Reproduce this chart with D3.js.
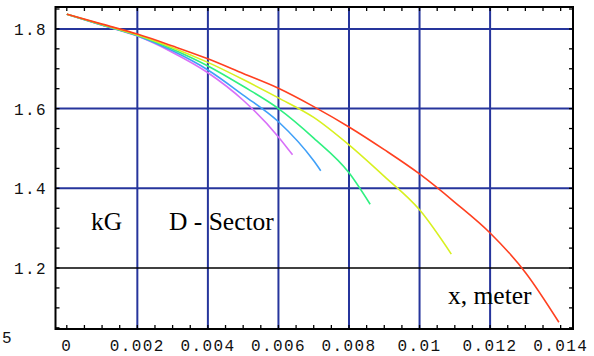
<!DOCTYPE html>
<html>
<head>
<meta charset="utf-8">
<script src="https://cdn.jsdelivr.net/npm/d3@7"></script>
<style>
    body { margin: 0; background: #fff; }
    svg { display: block; }
    .tick-label { font-family: 'Liberation Mono', 'DejaVu Sans Mono', monospace; font-size: 16px; letter-spacing: 1.4px; fill: #111; }
    .note { font-family: 'Liberation Serif', 'Times New Roman', serif; font-size: 25.5px; fill: #000; }
</style>
</head>
<body>
<div id="content"></div>
<script>
'use strict';

// field along x for five sector variants (kG vs metres)
var redSeries = [[0, 1.837], [0.001, 1.812], [0.002, 1.787], [0.003, 1.757], [0.004, 1.725], [0.005, 1.688],
    [0.006, 1.651], [0.007, 1.605], [0.008, 1.554], [0.009, 1.497], [0.010, 1.436], [0.011, 1.365],
    [0.012, 1.288], [0.013, 1.189], [0.01395, 1.064]];
var yellowSeries = [[0, 1.837], [0.001, 1.811], [0.002, 1.785], [0.003, 1.753], [0.004, 1.716], [0.005, 1.673],
    [0.006, 1.627], [0.007, 1.578], [0.008, 1.509], [0.009, 1.430], [0.010, 1.346], [0.0109, 1.235]];
var greenSeries = [[0, 1.837], [0.001, 1.810], [0.002, 1.784], [0.003, 1.749], [0.004, 1.707], [0.005, 1.656],
    [0.006, 1.600], [0.007, 1.526], [0.008, 1.439], [0.0086, 1.360]];
var blueSeries = [[0, 1.837], [0.001, 1.810], [0.002, 1.783], [0.003, 1.745], [0.004, 1.697], [0.005, 1.634],
    [0.006, 1.567], [0.007, 1.469], [0.0072, 1.444]];
var magentaSeries = [[0, 1.837], [0.001, 1.809], [0.002, 1.782], [0.003, 1.741], [0.004, 1.690], [0.005, 1.621],
    [0.006, 1.529], [0.0064, 1.484]];

var seriesList = [redSeries, yellowSeries, greenSeries, blueSeries, magentaSeries];
var seriesColors = ['#ff4020', '#d8f020', '#30f080', '#40a0f8', '#d870f8'];

var xTicks = [0, 0.002, 0.004, 0.006, 0.008, 0.01, 0.012, 0.014];
var xTickLabels = ['0', '0.002', '0.004', '0.006', '0.008', '0.01', '0.012', '0.014'];
var yTicks = [1.2, 1.4, 1.6, 1.8];
var yTickLabels = ['1.2', '1.4', '1.6', '1.8'];
var xGrid = [0.002, 0.004, 0.006, 0.008, 0.01, 0.012];
var yGridBlue = [1.4, 1.6, 1.8];
var yGridBlack = [1.2];

function run() {
    var width = 594, height = 356;
    var frame = { left: 55.5, right: 573, top: 7, bottom: 329 };

    var svg = d3.select('#content').append('svg')
        .attr('width', width)
        .attr('height', height);

    var x = d3.scaleLinear()
        .domain([-0.00032, 0.01435])
        .range([frame.left, frame.right]);

    var y = d3.scaleLinear()
        .domain([1.047, 1.855])
        .range([frame.bottom, frame.top]);

    var grid = svg.append('g');
    grid.selectAll('.vgrid').data(xGrid).enter().append('line')
        .attr('x1', x).attr('x2', x)
        .attr('y1', frame.top).attr('y2', frame.bottom)
        .style('stroke', '#26359c').style('stroke-width', 2);
    grid.selectAll('.hgrid').data(yGridBlue).enter().append('line')
        .attr('x1', frame.left).attr('x2', frame.right)
        .attr('y1', y).attr('y2', y)
        .style('stroke', '#26359c').style('stroke-width', 2);
    grid.selectAll('.hblack').data(yGridBlack).enter().append('line')
        .attr('x1', frame.left).attr('x2', frame.right)
        .attr('y1', y).attr('y2', y)
        .style('stroke', '#000').style('stroke-width', 1.6);

    var line = d3.line()
        .x(function (d) { return x(d[0]); })
        .y(function (d) { return y(d[1]); })
        .curve(d3.curveMonotoneX);

    // magenta drawn first so red ends up on top
    svg.append('g').selectAll('path')
        .data(seriesList.slice().reverse())
        .enter().append('path')
        .attr('d', line)
        .style('fill', 'none')
        .style('stroke-width', 1.6)
        .style('stroke', function (d, i) { return seriesColors[seriesColors.length - 1 - i]; });

    // minor ticks on all four sides, pointing inward
    var xMinor = d3.range(0, 0.01425, 0.0005);
    var yMinor = d3.range(1.05, 1.851, 0.05);
    var ticks = svg.append('g').style('stroke', '#000').style('stroke-width', 1.3);
    ticks.selectAll('.tb').data(xMinor).enter().append('line')
        .attr('x1', x).attr('x2', x)
        .attr('y1', frame.bottom).attr('y2', frame.bottom - 4);
    ticks.selectAll('.tt').data(xMinor).enter().append('line')
        .attr('x1', x).attr('x2', x)
        .attr('y1', frame.top).attr('y2', frame.top + 4);
    ticks.selectAll('.tl').data(yMinor).enter().append('line')
        .attr('x1', frame.left).attr('x2', frame.left + 4)
        .attr('y1', y).attr('y2', y);
    ticks.selectAll('.tr').data(yMinor).enter().append('line')
        .attr('x1', frame.right).attr('x2', frame.right - 4)
        .attr('y1', y).attr('y2', y);

    svg.append('rect')
        .attr('x', frame.left).attr('y', frame.top)
        .attr('width', frame.right - frame.left)
        .attr('height', frame.bottom - frame.top)
        .style('fill', 'none').style('stroke', '#000').style('stroke-width', 2);

    svg.append('g').selectAll('text').data(xTicks).enter().append('text')
        .attr('class', 'tick-label')
        .attr('x', x)
        .attr('y', 351)
        .attr('text-anchor', 'middle')
        .text(function (d, i) { return xTickLabels[i]; });

    svg.append('g').selectAll('text').data(yTicks).enter().append('text')
        .attr('class', 'tick-label')
        .attr('x', 47)
        .attr('y', function (d) { return y(d) + 6; })
        .attr('text-anchor', 'end')
        .text(function (d, i) { return yTickLabels[i]; });

    svg.append('text').attr('class', 'tick-label')
        .attr('x', 2).attr('y', 343).text('5');

    svg.append('text').attr('class', 'note').attr('x', 91).attr('y', 230).text('kG');
    svg.append('text').attr('class', 'note').attr('x', 169).attr('y', 230).text('D - Sector');
    svg.append('text').attr('class', 'note').attr('x', 448).attr('y', 304).text('x, meter');
}

document.addEventListener('DOMContentLoaded', run);
</script>
</body>
</html>
